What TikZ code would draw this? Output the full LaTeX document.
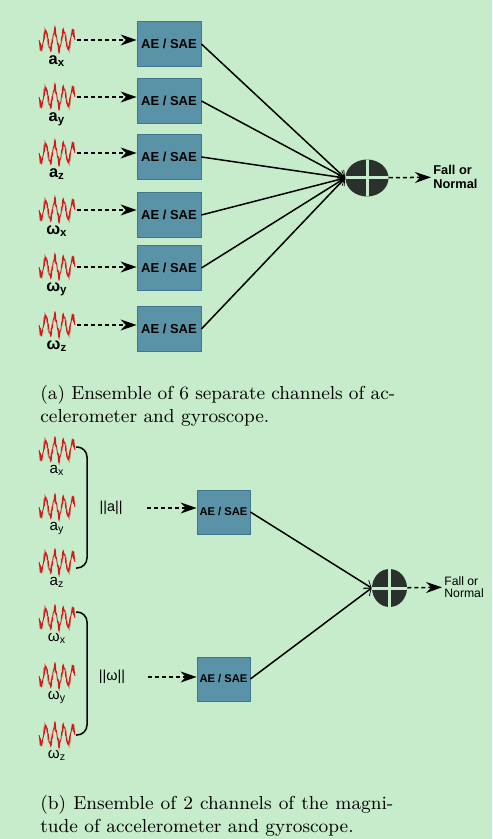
\documentclass[tikz,border=0pt]{standalone}
\usepackage{fontspec}
\setsansfont{Liberation Sans}
\usepackage{xcolor}
\usepackage{tikz}
\usetikzlibrary{arrows.meta}
\usetikzlibrary{shapes.geometric}
\usetikzlibrary{positioning}
\definecolor{bggreen}{RGB}{199,236,203}
\definecolor{boxblue}{RGB}{90,146,167}
\definecolor{boxedge}{RGB}{64,118,145}
\definecolor{sumdark}{RGB}{42,49,44}
\definecolor{wavered}{RGB}{214,24,24}
\tikzset{
    mybox/.style = {rectangle, draw=boxedge, fill=boxblue, line width=0.4pt, inner sep=0pt, minimum width=32pt, minimum height=22.5pt, font=\sffamily\bfseries\fontsize{6.5}{7}\selectfont},
    myboxs/.style = {mybox, minimum width=26.5pt, minimum height=22pt, font=\sffamily\bfseries\fontsize{5.6}{6}\selectfont},
    mysum/.style = {ellipse, fill=sumdark, inner sep=0pt, path picture={
        \draw[bggreen, line width=1.5pt] (path picture bounding box.north) -- (path picture bounding box.south);
        \draw[bggreen, line width=1.5pt] (path picture bounding box.west) -- (path picture bounding box.east);}},
    mywave/.style = {rectangle, inner sep=0pt, minimum width=20pt, minimum height=14pt, path picture={
        \draw[wavered, line width=0.45pt, shift={(path picture bounding box.center)}]
            plot[domain=-18:18, samples=73] (\x, {9*sin(40*\x)+2.5*sin(310*\x)});}},
}

\begin{document}
\begin{tikzpicture}[x=0.5pt, y=-0.5pt]
\tikzset{
    mylab/.style = {font=\sffamily\bfseries\fontsize{8.2}{8.5}\selectfont, inner sep=0.3pt},
    mylabs/.style = {font=\sffamily\fontsize{7.6}{8}\selectfont, inner sep=0.3pt},
    mymag/.style = {font=\sffamily\fontsize{7.2}{7.5}\selectfont, inner sep=1pt},
    myres/.style = {anchor=west, align=left, inner sep=1pt, font=\sffamily\bfseries\fontsize{6.4}{7}\selectfont},
    myress/.style = {anchor=west, align=left, inner sep=1pt, font=\sffamily\fontsize{6.1}{6.2}\selectfont},
    mycap/.style = {anchor=base west, align=left, inner sep=0pt, font=\fontsize{9.4}{11.5}\selectfont},
    edged/.style = {dash pattern=on 2pt off 1.5pt, line width=0.75pt, -{Stealth[length=8pt, width=5.5pt]}},
    edgen/.style = {line width=0.75pt, -{Straight Barb[length=3pt, width=5pt, line width=0.35pt]}},
    brack/.style = {line width=0.75pt, rounded corners=5pt},
}
\fill[bggreen] (0,0) rectangle (492,839);
% (a) six channels
\node[mywave, label={[mylab]below:a\textsubscript{x}}] at (57,40) (w1) {};
\node[mywave, label={[mylab]below:a\textsubscript{y}}] at (57,97) (w2) {};
\node[mywave, label={[mylab]below:a\textsubscript{z}}] at (57,153) (w3) {};
\node[mywave, label={[mylab]below:ω\textsubscript{x}}] at (57,210) (w4) {};
\node[mywave, label={[mylab]below:ω\textsubscript{y}}] at (57,267) (w5) {};
\node[mywave, label={[mylab]below:ω\textsubscript{z}}] at (57,325) (w6) {};
\node[mybox] at (169,44) (b1) {AE / SAE};
\node[mybox] at (169,101) (b2) {AE / SAE};
\node[mybox] at (169,157) (b3) {AE / SAE};
\node[mybox] at (169,215) (b4) {AE / SAE};
\node[mybox] at (169,268) (b5) {AE / SAE};
\node[mybox] at (169,329) (b6) {AE / SAE};
\node[mysum, minimum width=21.5pt, minimum height=18.5pt] at (367,178) (sum1) {};
\node[myres] at (431,177) (res1) {Fall or\\Normal};
%
\draw[edged] (w1) -- (w1 -| b1.west);
\draw[edged] (w2) -- (w2 -| b2.west);
\draw[edged] (w3) -- (w3 -| b3.west);
\draw[edged] (w4) -- (w4 -| b4.west);
\draw[edged] (w5) -- (w5 -| b5.west);
\draw[edged] (w6) -- (w6 -| b6.west);
%
\draw[edgen] (b1.east) -- (sum1.west);
\draw[edgen] (b2.east) -- (sum1.west);
\draw[edgen] (b3.east) -- (sum1.west);
\draw[edgen] (b4.east) -- (sum1.west);
\draw[edgen] (b5.east) -- (sum1.west);
\draw[edgen] (b6.east) -- (sum1.west);
\draw[edged] (sum1) -- (res1);
%
\node[mycap] at (40,422) (cap1) {\makebox[177.5pt][s]{(a) Ensemble of 6 separate channels of ac-}\\celerometer and gyroscope.};
% (b) two magnitude channels
\node[mywave, label={[mylabs]below:a\textsubscript{x}}] at (57,450) (wa1) {};
\node[mywave, label={[mylabs]below:a\textsubscript{y}}] at (57,507) (wa2) {};
\node[mywave, label={[mylabs]below:a\textsubscript{z}}] at (57,562) (wa3) {};
\node[mywave, label={[mylabs]below:ω\textsubscript{x}}] at (57,618) (wg1) {};
\node[mywave, label={[mylabs]below:ω\textsubscript{y}}] at (57,676) (wg2) {};
\node[mywave, label={[mylabs]below:ω\textsubscript{z}}] at (57,735) (wg3) {};
\draw[brack] (76,447) -- (87,447) -- (87,568) -- (76,568);
\draw[brack] (76,612) -- (87,612) -- (87,735) -- (76,735);
\node[mymag] at (111,508) (mag1) {||a||};
\node[mymag] at (112,677) (mag2) {||ω||};
\node[myboxs] at (223.5,512) (c1) {AE / SAE};
\node[myboxs] at (223.5,679) (c2) {AE / SAE};
\node[mysum, minimum width=17.5pt, minimum height=19pt] at (389.5,588) (sum2) {};
\node[myress] at (442,587) (res2) {Fall or\\Normal};
%
\draw[edged, shorten <=11pt] (mag1) -- (mag1 -| c1.west);
\draw[edged, shorten <=10pt] (mag2) -- (mag2 -| c2.west);
\draw[edgen] (c1.east) -- (sum2.west);
\draw[edgen] (c2.east) -- (sum2.west);
\draw[edged] (sum2) -- (res2);
%
\node[mycap] at (40,832) (cap2) {\makebox[176.5pt][s]{(b) Ensemble of 2 channels of the magni-}\\tude of accelerometer and gyroscope.};
\end{tikzpicture}
\end{document}
